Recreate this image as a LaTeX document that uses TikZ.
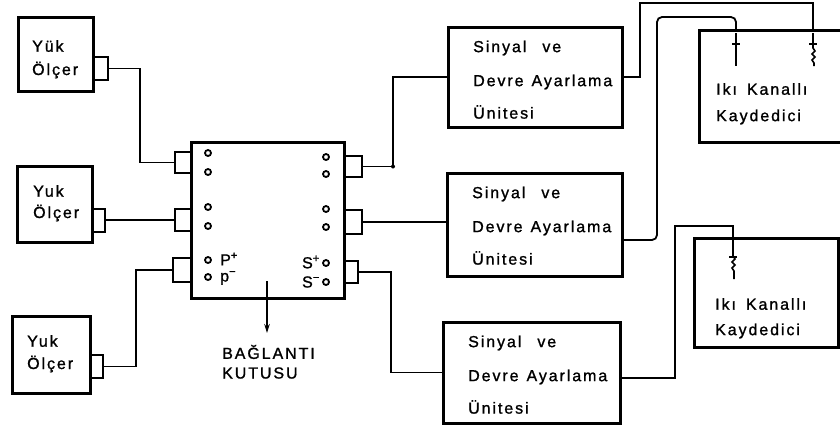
\documentclass[tikz,border=0pt]{standalone}
\usepackage{fontspec}
\setmainfont{Liberation Sans}
\newfontfamily\lblfont[LetterSpace=12,FakeBold=1.2]{Liberation Sans}
\usetikzlibrary{arrows.meta}
\begin{document}
\begin{tikzpicture}[x=1pt,y=-1pt,
  box/.style={draw, line width=3pt, inner sep=0pt, outer sep=0pt},
  stub/.style={draw, line width=2pt, inner sep=0pt, outer sep=0pt},
  wire/.style={line width=1.8pt},
  lbl/.style={anchor=west, inner sep=0pt, font=\lblfont\fontsize{16}{19}\selectfont},
  pin/.style={circle, draw, line width=1.8pt, minimum size=6pt, inner sep=0pt},
  penline/.style={line width=1.6pt}]
\useasboundingbox (0,0) rectangle (840,432);
\clip (0,0) rectangle (840,432);

% load cells
\node[box, minimum width=75pt, minimum height=74pt] (lc1) at (55.5,54) {};
\node[stub, minimum width=15pt, minimum height=23pt] (s1) at (100.5,68.5) {};
\node[lbl] (t1a) at (32,46) {Yük};
\node[lbl] (t1b) at (32,70) {Ölçer};

\node[box, minimum width=75pt, minimum height=76pt] (lc2) at (54.5,204) {};
\node[stub, minimum width=13pt, minimum height=23pt] (s2) at (98.5,220) {};
\node[lbl] (t2a) at (33,191) {Yuk};
\node[lbl] (t2b) at (33,213) {Ölçer};

\node[box, minimum width=78pt, minimum height=77pt] (lc3) at (51,354.5) {};
\node[stub, minimum width=13pt, minimum height=23pt] (s3) at (96.5,366.5) {};
\node[lbl] (t3a) at (27,341) {Yuk};
\node[lbl] (t3b) at (27,364) {Ölçer};

% junction box
\node[box, minimum width=153pt, minimum height=156pt] (jb) at (267.5,220) {};
\node[stub, minimum width=16pt, minimum height=21pt] (jl1) at (183,162.5) {};
\node[stub, minimum width=16pt, minimum height=22pt] (jl2) at (183,220) {};
\node[stub, minimum width=18pt, minimum height=24pt] (jl3) at (182,270) {};
\node[stub, minimum width=18pt, minimum height=21pt] (jr1) at (353,166.5) {};
\node[stub, minimum width=18pt, minimum height=24pt] (jr2) at (353,222) {};
\node[stub, minimum width=14pt, minimum height=22pt] (jr3) at (351,272) {};

\foreach \n/\yy in {a/153,b/172,c/207,d/226,e/260,f/277}
  \node[pin] (pl\n) at (208,\yy) {};
\foreach \n/\yy in {a/157,b/174,c/209,d/227,e/263,f/282}
  \node[pin] (pr\n) at (326,\yy) {};
\node[lbl] (pp) at (220,259) {P\textsuperscript{+}};
\node[lbl] (pm) at (220,278) {p\textsuperscript{−}};
\node[lbl, anchor=east] (sp) at (320,262) {S\textsuperscript{+}};
\node[lbl, anchor=east] (sm) at (320,282) {S\textsuperscript{−}};

\coordinate (arrE) at (267,333);
\draw[wire, -{Stealth[length=9pt,width=5.5pt]}] ([xshift=-0.5pt,yshift=17pt]jb.south) -- (arrE);
\node[lbl] (bk1) at (222,352) {BAĞLANTI};
\node[lbl] (bk2) at (222,373) {KUTUSU};

% signal conditioning units
\node[box, minimum width=174pt, minimum height=100pt] (sda1) at (535,77) {};
\node[box, minimum width=175pt, minimum height=103pt] (sda2) at (534.5,224.5) {};
\node[box, minimum width=177pt, minimum height=101pt] (sda3) at (531.5,372.5) {};
\foreach \s/\xx/\yy in {sda1/473/27, sda2/472/173, sda3/468/322}{
  \node[lbl] at (\xx,\yy+21) {Sinyal\hspace{16pt}ve};
  \node[lbl] at (\xx,\yy+55) {Devre\hspace{8pt}Ayarlama};
  \node[lbl] at (\xx,\yy+85) {Ünitesi};
}

% recorders
\draw[box] (850,30) -- (699,30) -- (699,142) -- (850,142);
\node[lbl] (r1a) at (716,89) {Ikı\hspace{10pt}Kanallı};
\node[lbl] (r1b) at (716,117) {Kaydedici};
\node[box, minimum width=144pt, minimum height=109pt] (rec2) at (766,292.5) {};
\node[lbl] (r2a) at (715,304) {Ikı\hspace{10pt}Kanallı};
\node[lbl] (r2b) at (715,331) {Kaydedici};

% wires load cells -> junction box
\draw[wire] (s1.east) -- (140,68.5) |- (jl1.west);
\draw[wire] (s2.east) -- (jl2.west);
\draw[wire] (s3.east) -- (136,366.5) |- (jl3.west);

% junction box -> conditioning units
\draw[wire] (jr1.east) -- (393,166.5) |- (sda1.west);
\fill (393,166.5) circle (2pt);
\draw[wire] (jr2.east) -- (jr2.east -| sda2.west);
\draw[wire] (jr3.east) -- (391,272) |- (sda3.west);

% conditioning units -> recorders
\coordinate (pen1) at (736,30);
\coordinate (pen2) at (813,30);
\coordinate (pen3) at (733,238);
\draw[wire] (sda1.east) -- (640,77) |- (813,3) -- (pen2);
\draw[wire, rounded corners=5pt] ([yshift=-15.5pt]sda2.east) -- (657,240) -- (657,17) -- (736,17) -- (pen1);
\draw[wire] ([yshift=-5.5pt]sda3.east) -- (675,378) |- (733,226) -- (pen3);

% pens
\draw[penline] (pen1) ++(0,3) -- ++(0,33);
\draw[penline] (732,44) -- (740,44);
\draw[penline] (pen2) ++(0,3) -- ++(0,12) -- ++(0,3) -- ++(2,3) -- ++(-3,3) -- ++(3,3) -- ++(-3,3) -- ++(2,3) -- ++(0,3);
\draw[penline] (809,44) -- (817,44);
\draw[penline] (pen3) ++(0,2) -- ++(0,16) -- ++(2,3) -- ++(-3,3) -- ++(3,3) -- ++(-3,3) -- ++(2,3) -- ++(0,8);
\draw[penline] (729,257) -- (737,257);
\end{tikzpicture}
\end{document}
